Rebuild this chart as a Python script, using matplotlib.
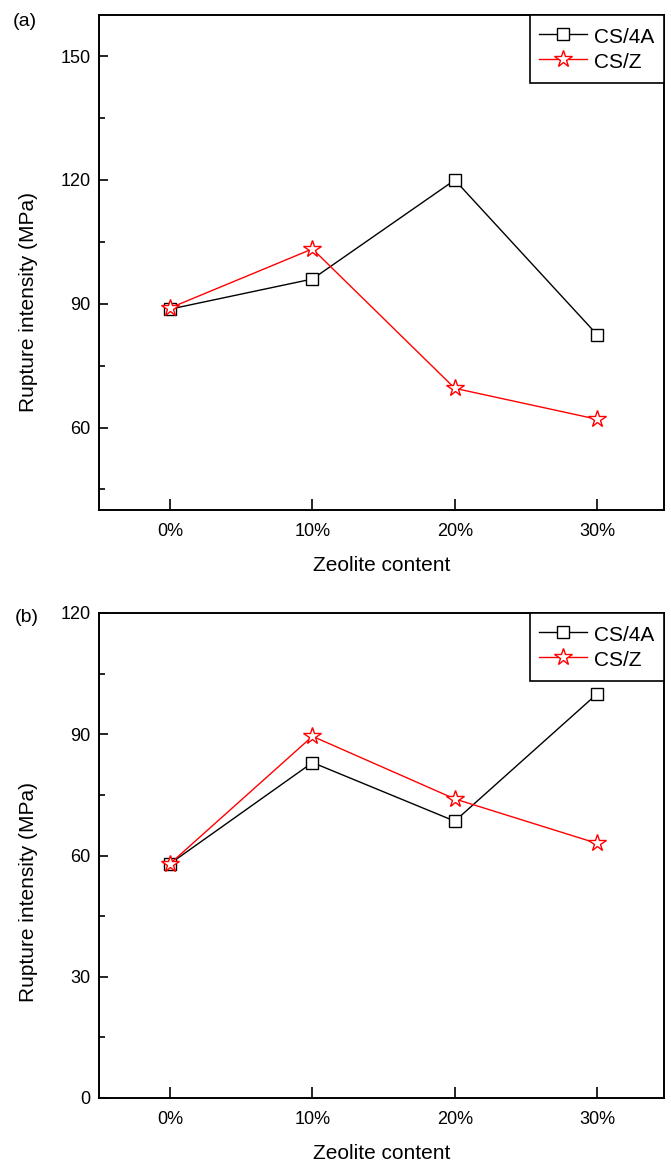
import matplotlib
matplotlib.use("Agg")
import matplotlib.pyplot as plt
from matplotlib.ticker import MultipleLocator

plt.rcParams['font.family'] = ['Liberation Sans', 'DejaVu Sans']

categories = ["0%", "10%", "20%", "30%"]
a_cs4a = [88.7, 96.0, 120.0, 82.5]
a_csz = [89.0, 103.3, 69.5, 62.0]
b_cs4a = [58.0, 83.0, 68.5, 100.0]
b_csz = [58.0, 89.5, 74.0, 63.0]

W, H = 671, 1165
fig = plt.figure(figsize=(W / 100, H / 100), dpi=100)

def frac(x0, y0, x1, y1):
    return [x0 / W, 1 - y1 / H, (x1 - x0) / W, (y1 - y0) / H]

ax_a = fig.add_axes(frac(99, 15, 664, 510))
ax_b = fig.add_axes(frac(99, 613, 664, 1098))

def style(ax, s1, s2, ylim, major, minor, label_y):
    x = list(range(len(categories)))
    ax.plot(x, s1, color='black', lw=1.0, marker='s', ms=9, mfc='white',
            mec='black', mew=1.0, label='CS/4A', zorder=3)
    ax.plot(x, s2, color='red', lw=1.0, marker='*', ms=13, mfc='white',
            mec='red', mew=1.0, label='CS/Z', zorder=4)
    ax.set_xlim(-0.5, 3.47)
    ax.set_ylim(*ylim)
    ax.set_xticks(x)
    ax.set_xticklabels(categories)
    ax.yaxis.set_major_locator(MultipleLocator(major))
    ax.yaxis.set_minor_locator(MultipleLocator(minor))
    ax.tick_params(axis='both', which='major', direction='in', labelsize=13,
                   width=1.2, top=False, right=False)
    ax.tick_params(axis='y', which='major', length=6.5, pad=6)
    ax.tick_params(axis='x', which='major', length=8, pad=9)
    ax.tick_params(axis='y', which='minor', direction='in', length=4, width=1.2,
                   right=False)
    ax.tick_params(axis='x', which='minor', bottom=False, top=False)
    for sp in ax.spines.values():
        sp.set_linewidth(1.4)
    ax.set_xlabel('Zeolite content', fontsize=15, labelpad=12)
    ax.set_ylabel('Rupture intensity (MPa)', fontsize=15)
    ax.yaxis.set_label_coords(-0.108, label_y)
    leg = ax.legend(loc='upper right', fontsize=15, borderaxespad=0,
                    fancybox=False, framealpha=1, edgecolor='black',
                    handlelength=2.3, handletextpad=0.35, labelspacing=0.1,
                    handleheight=1.35, borderpad=0.45)
    leg.get_frame().set_linewidth(1.2)

style(ax_a, a_cs4a, a_csz, (40, 160), 30, 15, 0.42)
style(ax_b, b_cs4a, b_csz, (0, 120), 30, 15, 0.425)

fig.text(25 / W, 1 - 22 / H, '(a)', fontsize=14, ha='center', va='center')
fig.text(27 / W, 1 - 618 / H, '(b)', fontsize=14, ha='center', va='center')

fig.savefig('out.png', dpi=100)
